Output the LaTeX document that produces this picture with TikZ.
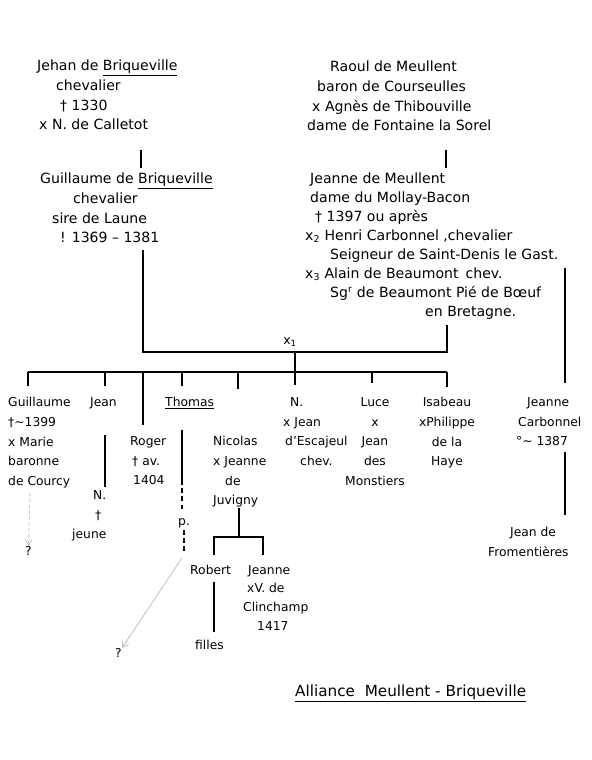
\documentclass[tikz,border=0pt]{standalone}
\usepackage{fontspec}
\setmainfont{DejaVu Sans}
\usetikzlibrary{arrows.meta, positioning}

\newlength\pxu
\setlength\pxu{0.03cm}
\newcommand\ind[1]{\hspace*{#1\pxu}}

\begin{document}
\begin{tikzpicture}[
  x=0.03cm, y=-0.03cm,
  every node/.style={inner sep=0pt},
  hand/.style={font=\fontsize{12}{16.8}\selectfont, anchor=north west, align=left},
  handj/.style={hand, font=\fontsize{12}{16.2}\selectfont},
  kid/.style={font=\fontsize{10.5}{16.9}\selectfont, anchor=north west, align=left},
  kidc/.style={kid, anchor=north, align=center},
  link/.style={line width=1pt},
  guess/.style={draw=gray!55, line width=0.6pt, -{Straight Barb[length=5pt, width=6pt]}}
]
\useasboundingbox (0,0) rectangle (591,760);

% Briqueville side
\node[hand] (jehan) at (37,60)
  {Jehan de \underline{Briqueville}\\ \ind{19}chevalier\\ \ind{23}† 1330\\ \ind{2}x N. de Calletot};
\node[hand] (guillaume) at (40,173)
  {Guillaume de \underline{Briqueville}\\ \ind{33}chevalier\\ \ind{12}sire de Laune\\ \ind{20}! 1369 – 1381};

% Meullent side
\node[hand] (raoul) at (307,61)
  {\ind{23}Raoul de Meullent\\ \ind{10}baron de Courseulles\\ \ind{5}x Agnès de Thibouville\\ dame de Fontaine la Sorel};
\node[handj] (jeanneM) at (305,173)
  {\ind{5}Jeanne de Meullent\\ \ind{5}dame du Mollay-Bacon\\ \ind{10}† 1397 ou après\\
   x\textsubscript{2} Henri Carbonnel ,chevalier\\ \ind{25}Seigneur de Saint-Denis le Gast.\\
   x\textsubscript{3} Alain de Beaumont\enspace chev.\\ \ind{25}Sg\textsuperscript{r} de Beaumont Pié de Bœuf\\
   \ind{120}en Bretagne.};

\coordinate (jehanB) at (141,150);
\coordinate (guillT) at (141,168);
\coordinate (raoulB) at (446,150);
\coordinate (jeanneT) at (446,168);
\draw[link] (jehanB) -- (guillT);
\draw[link] (raoulB) -- (jeanneT);

% marriage x1
\coordinate (guillB) at (143,250);
\coordinate (jeanneB) at (447,325);
\coordinate (mL) at (143,352);
\coordinate (mR) at (447,352);
\coordinate (mC) at (295,352);
\node[kid, anchor=center] (x1) at (290,342) {x\textsubscript{1}};
\draw[link] (guillB) -- (mL) -- (mR) -- (jeanneB);

% children bar
\coordinate (cL) at (28,372);
\coordinate (cR) at (447,372);
\coordinate (cC) at (295,372);
\draw[link] (mC) -- (cC);
\draw[link] (cL) -- (cR);
\draw[link] (cL) -- ++(0,14);
\draw[link] (105,372) coordinate (cJean) -- ++(0,14);
\draw[link] (143,372) coordinate (cRoger) -- ++(0,53);
\draw[link] (182,372) coordinate (cThomas) -- ++(0,14);
\draw[link] (238,372) coordinate (cNicolas) -- ++(0,17);
\draw[link] (cC) -- ++(0,13);
\draw[link] (372,372) coordinate (cLuce) -- ++(0,11);
\draw[link] (cR) -- ++(0,15);

% children
\node[kid] (guill) at (8,397) {Guillaume\\ †∼1399\\ x Marie\\ baronne\\ de Courcy};
\node[kid] (jean) at (90,397) {Jean};
\node[kid] (thomas) at (165,397) {\underline{Thomas}};
\node[kid] (roger) at (130,436) {Roger\\ \ind{2}† av.\\ \ind{3}1404};
\node[kid] (nicolas) at (213,436) {Nicolas\\ x Jeanne\\ \ind{12}de\\ Juvigny};
\node[kid] (nN) at (283,397) {\ind{7}N.\\ x Jean\\ \ind{2}d'Escajeul\\ \ind{17}chev.};
\node[kidc] (luce) at (375,397) {Luce\\ x\\ Jean\\ des\\ Monstiers};
\node[kidc] (isabeau) at (447,397) {Isabeau\\ xPhilippe\\ de la\\ Haye};
\node[kid] (jeanneCa) at (516,397) {\ind{11}Jeanne\\ \ind{2}Carbonnel\\ °∼ 1387};

% Carbonnel line
\coordinate (henri) at (565,268);
\coordinate (jcT) at (565,383);
\coordinate (jcB) at (565,452);
\coordinate (fromT) at (565,515);
\draw[link] (henri) -- (jcT);
\draw[link] (jcB) -- (fromT);
\node[kid] (fromentieres) at (488,527) {\ind{22}Jean de\\ Fromentières};

% Guillaume: unknown issue
\coordinate (guillB2) at (30,493);
\node[kid] (q1) at (25,546) {?};
\draw[guess, dash pattern=on 3pt off 2pt] (guillB2) -- (q1.north);

% Jean
\coordinate (jeanT) at (105,435);
\coordinate (jeanB) at (105,487);
\draw[link] (jeanT) -- (jeanB);
\node[kid] (jeanN) at (72,490) {\ind{21}N.\\ \ind{23}†\\ jeune};

% Thomas
\coordinate (thT) at (182,430);
\coordinate (thM) at (182,480);
\coordinate (thD) at (182,510);
\node[kid] (thomasP) at (178,518) {p.};
\coordinate (thE) at (184,530);
\coordinate (thF) at (184,553);
\coordinate (thG) at (182,558);
\draw[link] (thT) -- (thM);
\draw[link, dash pattern=on 4pt off 3pt] (thM) -- (thD);
\draw[link, dash pattern=on 4pt off 3pt] (thE) -- (thF);
\node[kid] (q2) at (115,648) {?};
\draw[guess] (thG) -- (q2.north east);

% Nicolas
\coordinate (niT) at (239,508);
\coordinate (niM) at (239,537);
\coordinate (niL) at (214,537);
\coordinate (niR) at (263,537);
\draw[link] (niT) -- (niM);
\draw[link] (niL |- 0,555) -- (niL) -- (niR) -- (niR |- 0,555);
\node[kid] (robert) at (190,565) {Robert};
\node[kid, font=\fontsize{10.5}{16}\selectfont] (jeanneC) at (243,565) {\ind{5}Jeanne\\ \ind{4}xV. de\\ Clinchamp\\ \ind{14}1417};
\coordinate (roT) at (214,582);
\coordinate (roB) at (214,632);
\draw[link] (roT) -- (roB);
\node[kid] (filles) at (195,640) {filles};

% title
\node[font=\fontsize{13}{16}\selectfont, anchor=north west] (title) at (295,685)
  {\underline{Alliance\ \ Meullent - Briqueville}};

\end{tikzpicture}
\end{document}
